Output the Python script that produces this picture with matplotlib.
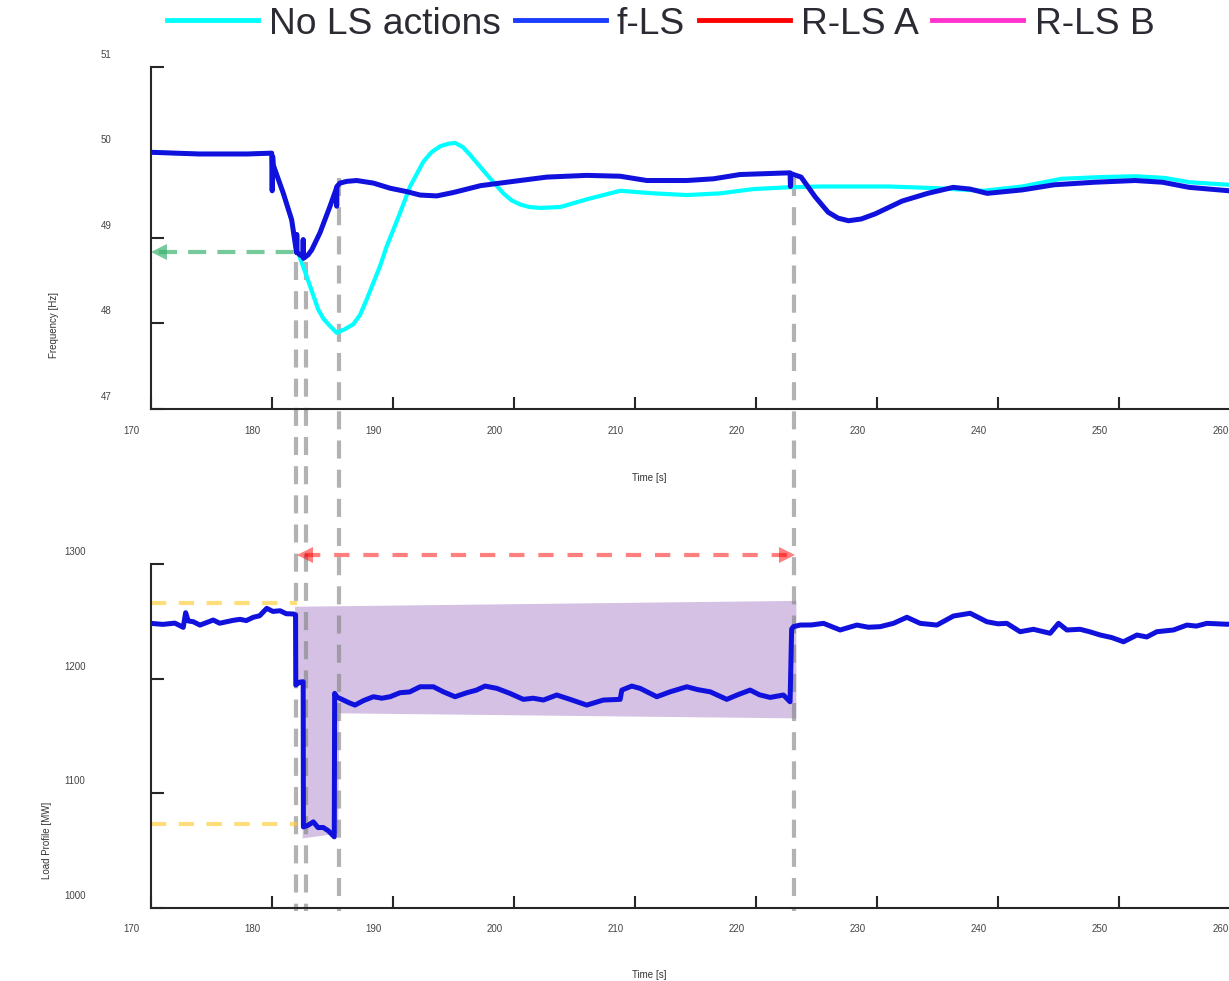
import matplotlib
matplotlib.use("Agg")
import matplotlib.pyplot as plt
from matplotlib.lines import Line2D
from matplotlib.patches import Polygon
from matplotlib.transforms import ScaledTranslation, blended_transform_factory

plt.rcParams['font.family'] = ['Liberation Sans', 'DejaVu Sans']
plt.rcParams['lines.scale_dashes'] = False

# ---------------- data ----------------
legend_labels = ["No LS actions", "f-LS", "R-LS A", "R-LS B"]

x_ticks = [170, 180, 190, 200, 210, 220, 230, 240, 250, 260]
freq_ticks = [47, 48, 49, 50, 51]
load_ticks = [1000, 1100, 1200, 1300]

# Frequency, no load shedding (cyan)
t_nols = [170.0, 174.0, 178.0, 180.0, 180.13, 180.96, 181.65, 182.05, 182.2,
          182.89, 183.85, 184.3, 184.82, 185.37, 186.0, 186.74, 187.3, 187.85,
          188.95, 189.5, 190.6, 191.43, 192.53, 193.2, 193.91, 194.6, 195.15,
          195.8, 196.39, 197.77, 199.14, 199.8, 200.52, 201.3, 202.17, 203.83,
          206.03, 208.79, 211.54, 214.3, 217.06, 219.8, 222.56, 225.31, 231.02,
          235.0, 238.79, 242.0, 245.23, 248.5, 251.35, 253.8, 255.81, 259.12,
          261.0]
f_nols = [50.0, 49.98, 49.98, 49.99, 49.85, 49.52, 49.21, 48.85, 48.82,
          48.55, 48.16, 48.05, 47.97, 47.89, 47.93, 47.99, 48.1, 48.28,
          48.67, 48.9, 49.29, 49.6, 49.89, 50.0, 50.07, 50.1, 50.11,
          50.06, 49.97, 49.74, 49.52, 49.44, 49.39, 49.36, 49.35, 49.36,
          49.45, 49.55, 49.52, 49.5, 49.52, 49.57, 49.59, 49.6, 49.6,
          49.58, 49.55, 49.6, 49.69, 49.71, 49.72, 49.7, 49.65, 49.62,
          49.61]

# Frequency, f-LS (blue)
t_fls = [170.0, 174.0, 178.0, 180.0, 180.04, 180.08, 180.13, 180.96, 181.65,
         182.05, 182.07, 182.09, 182.35, 182.58, 182.6, 182.62, 183.0, 183.31,
         183.99, 184.82, 185.35, 185.37, 185.39, 185.64, 186.2, 187.02, 188.4,
         189.78, 191.16, 192.26, 193.64, 195.01, 197.26, 199.97, 202.73, 206.03,
         208.79, 210.99, 214.3, 216.5, 218.7, 222.83, 222.86, 222.9, 223.74,
         224.9, 225.97, 226.8, 227.66, 228.7, 229.86, 232.09, 234.2, 236.3,
         237.7, 239.11, 242.0, 244.65, 248.0, 251.34, 253.6, 255.8, 259.11,
         261.0]
f_fls = [50.0, 49.98, 49.98, 49.99, 49.55, 49.95, 49.85, 49.52, 49.21,
         48.83, 49.04, 48.83, 48.8, 48.78, 48.98, 48.76, 48.8, 48.86,
         49.06, 49.37, 49.58, 49.37, 49.6, 49.64, 49.66, 49.67, 49.64,
         49.58, 49.54, 49.5, 49.49, 49.53, 49.61, 49.66, 49.71, 49.73,
         49.72, 49.67, 49.67, 49.69, 49.74, 49.76, 49.6, 49.75, 49.71,
         49.48, 49.3, 49.23, 49.2, 49.22, 49.28, 49.43, 49.52, 49.59,
         49.57, 49.52, 49.56, 49.62, 49.65, 49.67, 49.65, 49.59, 49.55,
         49.53]

# Load profile, f-LS (blue)
t_load = [170.0, 171.0, 172.0, 172.69, 172.89, 173.1, 173.52, 174.07, 174.6, 175.17,
          175.7, 176.28, 176.8, 177.38, 177.9, 178.48, 179.0, 179.59, 180.1, 180.69,
          181.2, 181.79, 181.97, 181.99, 182.3, 182.6, 182.62, 183.0, 183.44, 183.83,
          184.26, 184.7, 185.17, 185.2, 185.4, 185.92, 186.4, 186.88, 187.6, 188.4,
          189.1, 189.78, 190.6, 191.4, 192.26, 193.36, 194.18, 195.15, 196.12, 196.9,
          197.63, 198.6, 199.69, 200.79, 201.6, 202.45, 203.55, 204.65, 206.03, 207.4,
          208.79, 208.93, 209.75, 210.44, 211.82, 212.92, 214.3, 215.2, 216.23, 217.6,
          218.5, 219.53, 220.3, 221.18, 222.28, 222.83, 222.96, 223.11, 223.66, 224.6,
          225.59, 226.97, 228.35, 229.3, 230.27, 231.37, 232.48, 233.58, 234.96, 236.33,
          237.71, 239.09, 240.0, 240.74, 241.84, 242.94, 244.32, 245.01, 245.7, 246.8,
          247.6, 248.46, 249.4, 250.38, 251.49, 252.3, 253.14, 254.51, 255.62, 256.4,
          257.27, 258.93, 260.5]
L_load = [1248.4, 1247.5, 1248.6, 1244.9, 1257.7, 1250.5, 1249.8, 1246.9, 1249.0, 1251.3,
          1248.5, 1249.8, 1251.0, 1251.9, 1250.8, 1253.7, 1255.0, 1261.5, 1258.8, 1259.4,
          1256.8, 1256.6, 1255.7, 1194.5, 1197.0, 1197.4, 1070.6, 1072.0, 1075.0, 1070.0,
          1070.1, 1067.0, 1061.9, 1187.2, 1184.0, 1181.4, 1179.0, 1177.0, 1181.0, 1184.3,
          1183.0, 1184.3, 1187.8, 1188.5, 1193.0, 1193.0, 1188.6, 1184.3, 1187.8, 1190.0,
          1193.6, 1191.6, 1187.2, 1182.0, 1183.0, 1181.4, 1185.8, 1182.0, 1177.0, 1181.4,
          1182.0, 1190.1, 1193.6, 1191.6, 1184.3, 1188.6, 1193.0, 1190.5, 1188.6, 1182.0,
          1186.0, 1190.1, 1186.0, 1183.7, 1185.8, 1179.9, 1243.4, 1245.5, 1246.9, 1247.0,
          1248.4, 1242.6, 1246.9, 1245.0, 1245.5, 1248.4, 1253.7, 1248.4, 1246.9, 1254.8,
          1257.2, 1249.8, 1248.0, 1248.4, 1241.1, 1243.2, 1239.7, 1248.4, 1242.6, 1243.2,
          1241.0, 1238.2, 1236.0, 1232.3, 1238.2, 1236.5, 1241.1, 1242.6, 1246.9, 1246.0,
          1248.4, 1247.6, 1248.5]

# Shaded (shed load) region
shade_t = [181.93, 223.35, 223.35, 185.59, 185.5, 182.56, 182.56, 181.93]
shade_L = [1262.9, 1268.0, 1165.4, 1169.8, 1064.9, 1060.5, 1196.0, 1196.0]

# Event markers (vertical gray dashed lines): time, frequency where the line starts
event_t = [181.98, 182.81, 185.56, 223.15]
event_f = [48.72, 48.72, 49.70, 49.70]
event_load_bottom = 997.5

# Frequency threshold arrow
thr_f = 48.83
thr_t = [170.71, 182.0]

# Load reference levels (yellow)
ref_levels = [1265.9, 1072.7]
ref_t = [170.0, 182.1]

# LS duration arrow (red)
dur_L = 1308.1
dur_t = [182.72, 222.54]

# ---------------- figure ----------------
fig = plt.figure(figsize=(12.29, 9.81), dpi=100)
ax1 = fig.add_axes([0.1226, 0.5831, 0.8863, 0.3489])
ax2 = fig.add_axes([0.1226, 0.0747, 0.8863, 0.3501])
ax1.set_zorder(2)
ax1.patch.set_visible(False)
ax2.set_zorder(1)

spine_c = '#262626'
lab_c = '#444444'
line_blue = '#1111DD'

for ax in (ax1, ax2):
    ax.spines['top'].set_visible(False)
    ax.spines['right'].set_visible(False)
    for s in ('left', 'bottom'):
        ax.spines[s].set_linewidth(1.5)
        ax.spines[s].set_color(spine_c)
    ax.tick_params(direction='in', length=9, width=1.5, color=spine_c,
                   labelsize=7, labelcolor=lab_c)
    ax.tick_params(axis='x', pad=12)
    ax.set_xlim(170, 260)
    ax.set_xticks(x_ticks)
    ax.set_xticklabels([str(v) for v in x_ticks])

ax1.set_ylim(47, 51)
ax1.set_yticks(freq_ticks)
ax1.set_yticklabels([str(v) for v in freq_ticks])
ax1.tick_params(axis='y', pad=28)
ax2.set_ylim(1000, 1300)
ax2.set_yticks(load_ticks)
ax2.set_yticklabels([str(v) for v in load_ticks])
ax2.tick_params(axis='y', pad=47)

# offset tick labels (as in reference)
for ax in (ax1, ax2):
    for lab in ax.get_xticklabels():
        lab.set_transform(lab.get_transform() + ScaledTranslation(-0.195, 0, fig.dpi_scale_trans))
    for lab in ax.get_yticklabels():
        lab.set_transform(lab.get_transform() + ScaledTranslation(0, 0.13, fig.dpi_scale_trans))

# axis labels
ax1.set_xlabel('Time [s]', fontsize=7, color='#333333')
ax1.xaxis.set_label_coords(0.4575, -0.187)
ax1.set_ylabel('Frequency [Hz]', fontsize=7, color='#333333')
ax1.yaxis.set_label_coords(-0.084, 0.245)
ax2.set_xlabel('Time [s]', fontsize=7, color='#333333')
ax2.xaxis.set_label_coords(0.4575, -0.181)
ax2.set_ylabel('Load Profile [MW]', fontsize=7, color='#333333')
ax2.yaxis.set_label_coords(-0.091, 0.197)

# frequency curves
ax1.plot(t_nols, f_nols, color='#00FFFF', lw=3.0, zorder=3)
ax1.plot(t_fls, f_fls, color=line_blue, lw=3.6, zorder=4)

# threshold arrow (green)
green = '#3CB371'
ax1.plot(thr_t, [thr_f, thr_f], color=green, alpha=0.7, lw=3,
         linestyle=(0, (13, 8)), zorder=2, clip_on=False)
ax1.plot([thr_t[0]], [thr_f], marker='<', ms=11, mew=0, color=green,
         alpha=0.7, zorder=2, clip_on=False)

# shaded region and load curve
ax2.add_patch(Polygon(list(zip(shade_t, shade_L)), closed=True,
                      facecolor='#D4C1E3', edgecolor='none', zorder=1))
ax2.plot(t_load, L_load, color=line_blue, lw=3.6, zorder=3)

# yellow reference levels
for lv in ref_levels:
    ax2.plot(ref_t, [lv, lv], color='#FFCC33', alpha=0.65, lw=3,
             linestyle=(0, (11, 9)), zorder=2)

# red duration arrow
ax2.plot(dur_t, [dur_L, dur_L], color='red', alpha=0.5, lw=3,
         linestyle=(0, (11, 10)), zorder=2, clip_on=False)
ax2.plot([dur_t[0]], [dur_L], marker='<', ms=11, mew=0, color='red',
         alpha=0.5, clip_on=False, zorder=2)
ax2.plot([dur_t[1]], [dur_L], marker='>', ms=11, mew=0, color='red',
         alpha=0.5, clip_on=False, zorder=2)

# gray event lines spanning both panels (x in data, y in figure fraction)
to_fig = fig.transFigure.inverted()
blend = blended_transform_factory(ax2.transData, fig.transFigure)
for tt, ff in zip(event_t, event_f):
    y_top = to_fig.transform(ax1.transData.transform((tt, ff)))[1]
    y_bot = to_fig.transform(ax2.transData.transform((tt, event_load_bottom)))[1]
    ax2.plot([tt, tt], [y_top, y_bot], transform=blend, color='gray',
             alpha=0.6, lw=3, linestyle=(0, (13, 8)), zorder=1.5,
             clip_on=False, solid_capstyle='butt', dash_capstyle='butt')

# legend
handles = [Line2D([], [], color='#00FFFF', lw=3.5),
           Line2D([], [], color='#1A3CFF', lw=3.5),
           Line2D([], [], color='#FF0000', lw=3.5),
           Line2D([], [], color='#FF33CC', lw=3.5)]
fig.legend(handles, legend_labels, loc='center left',
           bbox_to_anchor=(167 / 1229, 1 - 24 / 981), ncol=4, frameon=False,
           fontsize=26.8, handlelength=2.45, handletextpad=0.3,
           columnspacing=0.36, borderpad=0, borderaxespad=0,
           labelcolor='#2B2B33')

fig.savefig('out.png', dpi=100)
